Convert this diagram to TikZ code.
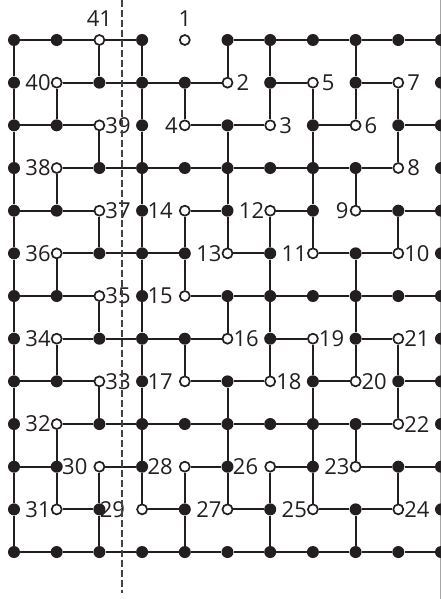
\documentclass[tikz,border=0pt]{standalone}
\usepackage{fontspec}
\setmainfont{Open Sans}
\definecolor{ink}{HTML}{231F20}
\begin{document}
\begin{tikzpicture}[x=1pt,y=-1pt,
  ptF/.style={circle,fill=ink,inner sep=0pt,minimum size=12pt},
  ptO/.style={circle,draw=ink,fill=white,line width=1.7pt,inner sep=0pt,minimum size=10pt},
  edge/.style={line width=2pt,draw=ink},
  lbl/.style={inner sep=0pt,font=\fontsize{22}{24}\selectfont,text=ink},
  dashline/.style={line width=1.6pt,draw=ink!85,dash pattern=on 7pt off 3pt},
  rim/.style={line width=0.8pt,draw=black!35}]
\useasboundingbox (0,0) rectangle (441,599);
\coordinate (gtop) at (440.6,0);
\coordinate (gbot) at (440.6,599);
\draw[rim] (gtop) -- (gbot);
% grid points
\foreach \r/\types in {
  0/{F,F,O,F,O,F,F,F,F,F,F},
  1/{F,O,F,F,F,O,F,O,F,O,F},
  2/{F,F,O,F,O,F,O,F,O,F,F},
  3/{F,O,F,F,F,F,F,F,F,O,F},
  4/{F,F,O,F,O,F,O,F,O,F,F},
  5/{F,O,F,F,F,O,F,O,F,O,F},
  6/{F,F,O,F,O,F,F,F,F,F,F},
  7/{F,O,F,F,F,O,F,O,F,O,F},
  8/{F,F,O,F,O,F,O,F,O,F,F},
  9/{F,O,F,F,F,F,F,F,F,O,F},
  10/{F,F,O,F,O,F,O,F,O,F,F},
  11/{F,O,F,O,F,O,F,O,F,O,F},
  12/{F,F,F,F,F,F,F,F,F,F,F}}{
  \foreach \t [count=\c from 0] in \types {
    \node[pt\t] (n\r-\c) at ({14+42.7*\c},{40+42.67*\r}) {};
  }
}
% horizontal edges
\foreach \r/\cs in {
  0/{0,1,2,5,6,7,8,9},
  1/{1,2,3,4,6,8},
  2/{0,1,4,5,7,9},
  3/{1,2,3,4,5,6,7,8},
  4/{0,1,4,6,8,9},
  5/{1,2,3,5,7,8},
  6/{0,1,4,5,6,7,8,9},
  7/{1,2,3,4,6,8},
  8/{0,1,4,5,7,9},
  9/{1,2,3,4,5,6,7,8},
  10/{0,2,4,6,8,9},
  11/{1,3,5,7,8},
  12/{0,1,2,3,4,5,6,7,8,9}}{
  \foreach \c [evaluate=\c as \d using int(\c+1)] in \cs {
    \draw[edge] (n\r-\c) -- (n\r-\d);
  }
}
% vertical edges
\foreach \c/\rs in {
  0/{0,1,2,3,4,5,6,7,8,9,10,11},
  1/{1,3,5,7,9,10},
  2/{0,2,4,6,8,10,11},
  3/{0,1,2,3,4,5,6,7,8,9,10},
  4/{1,4,5,7,10,11},
  5/{0,2,3,4,6,8,9,10},
  6/{0,1,4,5,6,7,10,11},
  7/{1,2,3,4,7,8,9,10},
  8/{0,1,3,5,6,7,9,11},
  9/{1,2,4,7,8,10}}{
  \foreach \r [evaluate=\r as \s using int(\r+1)] in \rs {
    \draw[edge] (n\r-\c) -- (n\s-\c);
  }
}
% labels
\foreach \t/\r/\c/\dx in {40/1/1/0,4/2/4/-1,38/3/1/0,12/4/6/0,9/4/8/-1,36/5/1/0,13/5/5/0,11/5/7/0,
  34/7/1/0,32/9/1/0,23/10/8/0,31/11/1/0,27/11/5/0,25/11/7/0,
  14/4/4/-6,15/6/4/-6,17/8/4/-6,30/10/2/-6,28/10/4/-6,26/10/6/-6,29/11/3/-11}{
  \node[lbl,anchor=east,xshift=\dx pt] (l\t) at (n\r-\c.west) {\t};
}
\foreach \t/\r/\c/\dx in {2/1/5/3,5/1/7/3,7/1/9/3,3/2/6/3,6/2/8/3,8/3/9/3,
  39/2/2/0,37/4/2/0,10/5/9/0,35/6/2/0,16/7/5/0,19/7/7/0,21/7/9/0,33/8/2/0,
  18/8/6/0,20/8/8/0,22/9/9/0,24/11/9/0}{
  \node[lbl,anchor=west,xshift=\dx pt] (l\t) at (n\r-\c.east) {\t};
}
\node[lbl,anchor=south,yshift=7pt] (l41) at (n0-2.north) {41};
\node[lbl,anchor=south,yshift=7pt] (l1) at (n0-4.north) {1};
% dashed axis
\coordinate (dtop) at (121.7,0);
\coordinate (dbot) at (121.7,593);
\draw[dashline] (dtop) -- (dbot);
\end{tikzpicture}
\end{document}
